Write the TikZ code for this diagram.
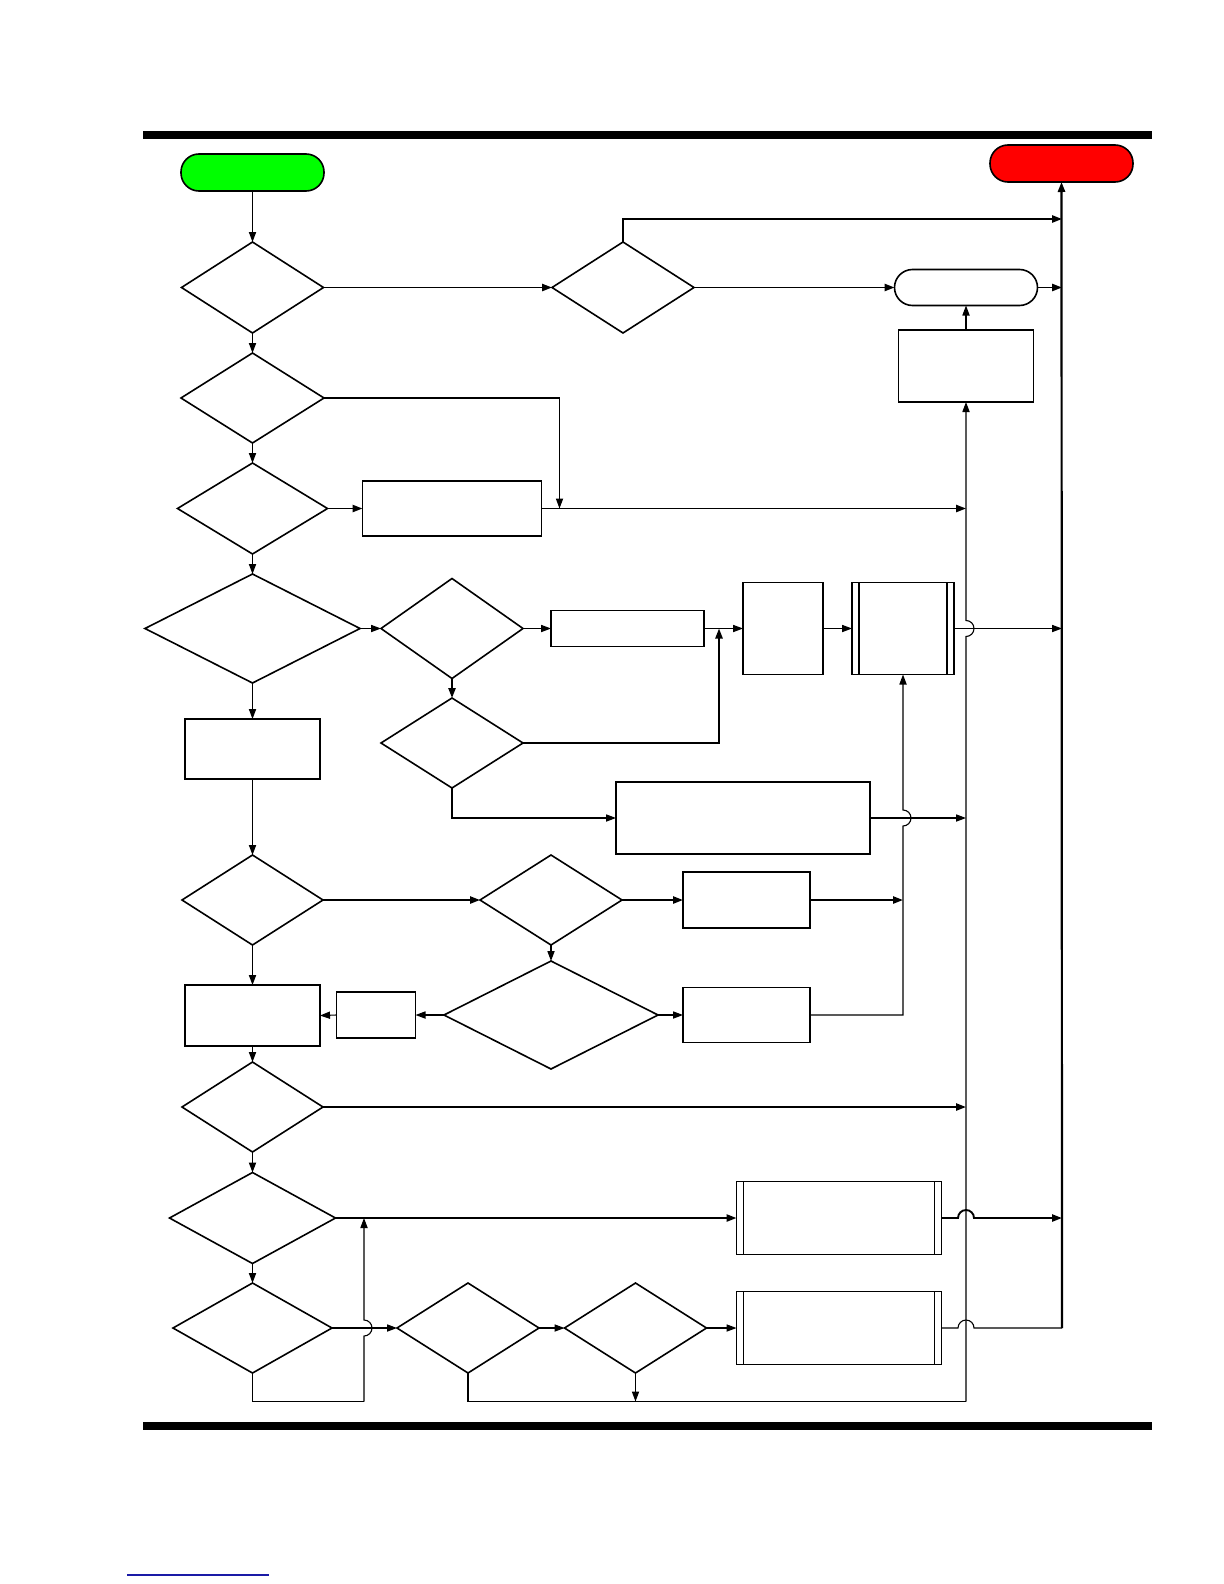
\documentclass[tikz,border=0pt]{standalone}
\usepackage{xcolor}
\usepackage{tikz}
\usetikzlibrary{positioning, arrows.meta, shapes.geometric, calc}
\definecolor{startgreen}{HTML}{00FF00}
\definecolor{stopred}{HTML}{FF0000}
\definecolor{linkblue}{HTML}{1A1AA6}
\tikzset{
  term/.style    = {rectangle, rounded corners=9pt, draw, line width=0.8pt,
                    minimum width=71.5pt, minimum height=18.5pt,
                    inner sep=0pt, outer sep=0pt},
  dec/.style     = {diamond, draw, line width=0.8pt,
                    minimum width=71pt, minimum height=45pt,
                    inner sep=0pt, outer sep=0pt},
  proc/.style    = {rectangle, draw, line width=0.95pt,
                    inner sep=0pt, outer sep=0pt},
  predef/.style  = {proc, path picture={
                      \draw[line width=0.8pt]
                        ([xshift=3.5pt]path picture bounding box.north west) --
                        ([xshift=3.5pt]path picture bounding box.south west)
                        ([xshift=-3.5pt]path picture bounding box.north east) --
                        ([xshift=-3.5pt]path picture bounding box.south east);}},
  arr/.style     = {-{Triangle[length=5pt,width=3.6pt]}, line width=0.55pt},
  conn/.style    = {line width=0.55pt},
  heavy/.style   = {line width=0.95pt},
}

\begin{document}
\begin{tikzpicture}[x=0.5pt, y=-0.5pt]

  \useasboundingbox (0,0) rectangle (1224,1584);

  % page rules
  \fill (143,131) rectangle (1152,139);
  \fill (143,1422) rectangle (1152,1430);
  \draw[linkblue, line width=0.6pt] (127,1575) -- (269,1575);

  % terminals
  \node[term, fill=startgreen] (start) at (252.5,172.5) {};
  \node[term, fill=stopred]    (stop)  at (1061.5,163.5) {};

  % main column
  \node[dec, minimum height=45.5pt]                      (d1)  at (252.5,287.5) {};
  \node[dec, minimum width=71.5pt]                       (d3)  at (252.5,398) {};
  \node[dec, minimum width=75pt, minimum height=45.5pt]  (d4)  at (252.5,508.5) {};
  \node[dec, minimum width=107.5pt, minimum height=54.5pt] (d5) at (252.5,628.5) {};
  \node[proc, minimum width=67.5pt, minimum height=30pt] (b6)  at (252.5,749) {};
  \node[dec, minimum width=70.5pt]                       (d8)  at (252.5,900) {};
  \node[proc, minimum width=67.5pt, minimum height=30.5pt] (b10) at (252.5,1015.5) {};
  \node[dec, minimum width=70.5pt]                       (d11) at (252.5,1107) {};
  \node[dec, minimum width=83pt, minimum height=45.5pt]  (d12) at (252.5,1218) {};
  \node[dec, minimum width=79.5pt]                       (d13) at (252.5,1328) {};

  % top branch
  \node[dec, minimum height=45.5pt]                      (d2)  at (623,287.5) {};
  \node[term, minimum height=18pt]                       (t2)  at (966,287.5) {};
  \node[proc, minimum width=67.5pt, minimum height=36pt] (b1)  at (966,366) {};
  \node[proc, minimum width=89.5pt, minimum height=27.5pt] (b2) at (452,508.5) {};

  % middle branch
  \node[dec, minimum height=50pt]                        (d6)  at (452,628.5) {};
  \node[proc, minimum width=76.5pt, minimum height=18pt] (b3)  at (627.5,628.5) {};
  \node[proc, minimum width=40pt, minimum height=46pt]   (b4)  at (783,628.5) {};
  \node[predef, minimum width=51pt, minimum height=46pt] (p1)  at (903,628.5) {};
  \node[dec]                                             (d7)  at (452,743) {};
  \node[proc, minimum width=127pt, minimum height=36pt]  (b5)  at (743,818) {};

  \node[dec]                                             (d9)  at (551,900) {};
  \node[proc, minimum width=63.5pt, minimum height=28pt] (b7)  at (746.5,900) {};
  \node[dec, minimum width=107pt, minimum height=54pt]   (d10) at (551,1015) {};
  \node[proc, minimum width=63.5pt, minimum height=27.5pt] (b8) at (746.5,1015) {};
  \node[proc, minimum width=39.5pt, minimum height=23pt] (b9)  at (376,1015) {};

  % bottom branch
  \node[predef, minimum width=102.5pt, minimum height=36.5pt] (p2) at (839,1218) {};
  \node[dec]                                             (d14) at (468,1328) {};
  \node[dec]                                             (d15) at (635.5,1328) {};
  \node[predef, minimum width=102.5pt, minimum height=36.5pt] (p3) at (839,1328) {};

  % junction points
  \coordinate (bus)    at (1062,1328);
  \coordinate (bustop) at (1062,219);
  \coordinate (vb)     at (966,1401.5);
  \coordinate (lp)     at (364,1401.5);
  \coordinate (mj)     at (719,628.5);
  \coordinate (dj)     at (559.5,508.5);

  % main column arrows
  \draw[arr] (start.south) -- (d1.north);
  \draw[arr] (d1.south) -- (d3.north);
  \draw[arr] (d3.south) -- (d4.north);
  \draw[arr] (d4.south) -- (d5.north);
  \draw[arr] (d5.south) -- (b6.north);
  \draw[arr] (b6.south) -- (d8.north);
  \draw[arr] (d8.south) -- (b10.north);
  \draw[arr] (b10.south) -- (d11.north);
  \draw[arr] (d11.south) -- (d12.north);
  \draw[arr] (d12.south) -- (d13.north);

  % top rows
  \draw[arr, heavy] (d1.east) -- (d2.west);
  \draw[arr, heavy] (d2.north) |- (bustop);
  \draw[arr, heavy] (d2.east) -- (t2.west);
  \draw[arr, heavy] (t2.east) -- (t2.east -| bus);
  \draw[arr] (b1.north) -- (t2.south);
  \draw[arr] (d3.east) -| (dj);
  \draw[arr, heavy] (d4.east) -- (b2.west);
  \draw[arr, heavy] (b2.east) -- (b2.east -| vb);

  % middle rows
  \draw[arr] (d5.east) -- (d6.west);
  \draw[arr] (d6.east) -- (b3.west);
  \draw[arr, heavy] (d6.south) -- (d7.north);
  \draw[arr] (b3.east) -- (b4.west);
  \draw[arr, heavy] (d7.east) -| (mj);
  \draw[arr] (b4.east) -- (p1.west);
  \draw[arr] (p1.east) -- (p1.east -| bus);
  \draw[arr] (d7.south) |- (b5.west);
  \draw[arr] (b5.east) -- (b5.east -| vb);

  \draw[arr, heavy] (d8.east) -- (d9.west);
  \draw[arr, heavy] (d9.east) -- (b7.west);
  \draw[arr, heavy] (b7.east) -- (b7.east -| p1.south);
  \draw[arr] (d9.south) -- (d10.north);
  \draw[arr] (d10.east) -- (b8.west);
  \draw[arr] (d10.west) -- (b9.east);
  \draw[arr] (b9.west) -- (b10.east);
  \draw[arr] (b8.east) -| ($(b5.east -| p1.south)+(0,8)$)
    arc[start angle=90, end angle=-90, radius=8] -- (p1.south);

  \draw[arr, heavy] (d11.east) -- (d11.east -| vb);

  % bottom rows
  \draw[arr, heavy] (d12.east) -- (p2.west);
  \draw[arr, heavy] (p2.east) -- ($(p2.east -| vb)+(-8,0)$)
    arc[start angle=180, end angle=360, radius=8] -- (p2.east -| bus);
  \draw[arr] (d13.east) -- (d14.west);
  \draw[arr] (d14.east) -- (d15.west);
  \draw[arr] (d15.east) -- (p3.west);
  \draw[conn] (p3.east) -- ($(p3.east -| vb)+(-8,0)$)
    arc[start angle=180, end angle=360, radius=8] -- (bus);
  \draw[arr, line width=1.1pt] (bus) -- (stop.south);

  % loops along the bottom
  \draw[conn, heavy] (d13.south) |- (lp);
  \draw[arr] (lp) -- ($(d13.east -| lp)+(0,8)$)
    arc[start angle=90, end angle=-90, radius=8] -- (lp |- d12.east);
  \draw[conn, heavy] (d14.south) |- (vb);
  \draw[arr] (d15.south) -- (d15.south |- vb);
  \draw[arr] (vb) -- ($(p1.east -| vb)+(0,8)$)
    arc[start angle=90, end angle=-90, radius=8] -- (b1.south);

\end{tikzpicture}
\end{document}
